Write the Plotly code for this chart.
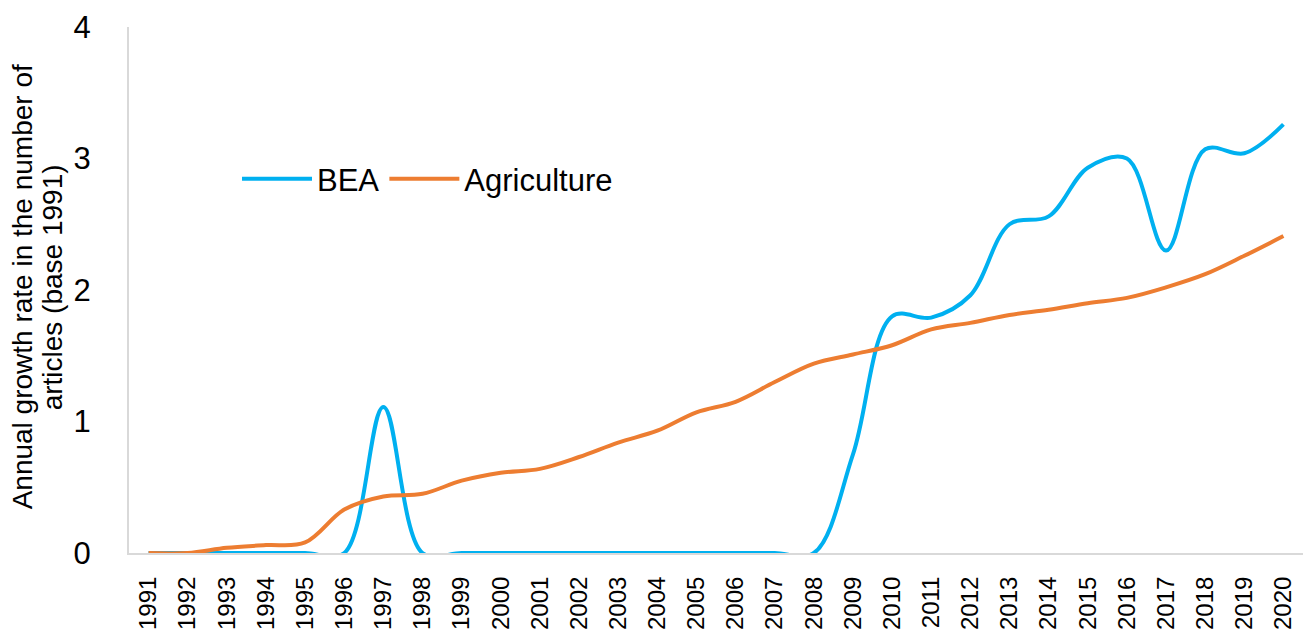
import plotly.graph_objects as go

years = [str(y) for y in range(1991, 2021)]
bea = [0, 0, 0, 0, 0, 0, 1.11, 0, 0, 0, 0, 0, 0, 0, 0, 0, 0, 0, 0.75,
       1.80, 1.79, 1.96, 2.50, 2.56, 2.93, 3.00, 2.30, 3.07, 3.04, 3.26]
agri = [0.0, 0.0, 0.04, 0.06, 0.08, 0.33, 0.43, 0.45, 0.55, 0.61, 0.64, 0.73,
        0.84, 0.93, 1.07, 1.15, 1.30, 1.44, 1.51, 1.58, 1.70, 1.75, 1.81, 1.85,
        1.90, 1.94, 2.02, 2.12, 2.26, 2.41]
y_ticks = [0, 1, 2, 3, 4]
title_lines = ["Annual growth rate in the number of", "articles (base 1991)"]

FONT = "Arial, 'Liberation Sans', sans-serif"

fig = go.Figure()
fig.add_trace(go.Scatter(x=years, y=bea, name="BEA", mode="lines",
                         line=dict(color="#00B0F0", width=4, shape="spline", smoothing=1)))
fig.add_trace(go.Scatter(x=years, y=agri, name="Agriculture", mode="lines",
                         line=dict(color="#ED7D31", width=4, shape="spline", smoothing=1)))

PLOT_L = 129
for i, (txt, xc) in enumerate(zip(title_lines, [22, 52])):
    fig.add_annotation(text=txt, textangle=-90, xref="paper", yref="paper",
                       x=(xc - PLOT_L) / 1174, y=0.505, xanchor="center", yanchor="middle",
                       showarrow=False, font=dict(size=28, color="black"))

fig.update_layout(
    width=1305, height=632,
    margin=dict(l=129, r=2, t=27, b=79, autoexpand=False),
    paper_bgcolor="white", plot_bgcolor="white",
    font=dict(family=FONT, color="black"),
    showlegend=True,
    legend=dict(orientation="h", x=0.092, y=0.711, xanchor="left", yanchor="middle",
                font=dict(size=31), itemwidth=70, bgcolor="rgba(0,0,0,0)",
                tracegroupgap=0),
    xaxis=dict(type="category", range=[-0.5, 29.5], showgrid=False, showline=True,
               linecolor="#D9D9D9", linewidth=2, tickangle=-90, tickfont=dict(size=24),
               ticks="", ticklabelstandoff=12, layer="below traces", zeroline=False,
               automargin=False),
    yaxis=dict(range=[0, 4], tickvals=y_ticks, showgrid=False, showline=True,
               linecolor="#D9D9D9", linewidth=2, tickfont=dict(size=31), ticks="",
               ticklabelstandoff=30, zeroline=False, layer="below traces",
               automargin=False),
)

fig.write_html("out.html")
